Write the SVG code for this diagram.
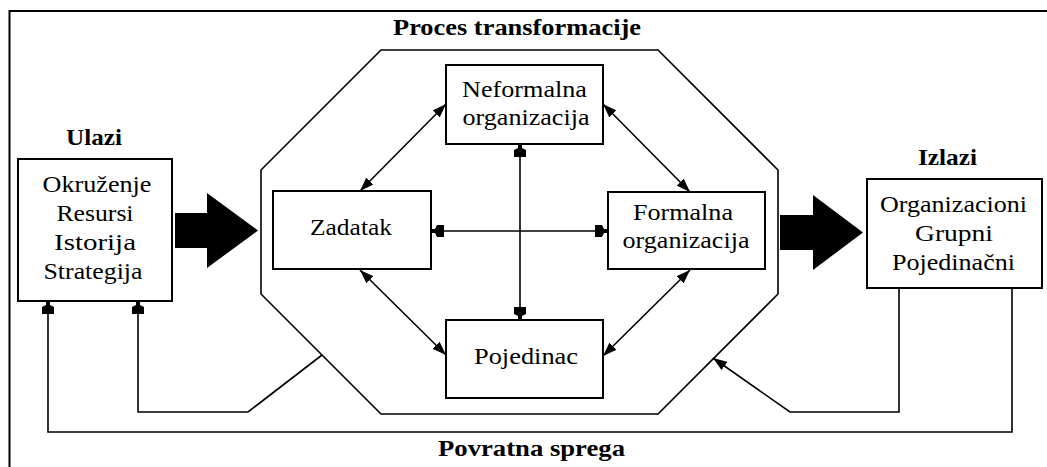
<svg xmlns="http://www.w3.org/2000/svg" width="1047" height="467" viewBox="0 0 1047 467" font-family="Liberation Serif">
  <style>
    .box { fill: #fff; stroke: #000; stroke-width: 2; }
    .txt { font-size: 23px; fill: #000; text-anchor: middle; }
    .ttl { font-size: 24px; font-weight: bold; fill: #000; text-anchor: middle; }
    .ln { fill: none; stroke: #000; stroke-width: 1.6; }
    .frame { fill: none; stroke: #000; stroke-width: 2; }
    .big { fill: #000; stroke: none; }
  </style>
  <defs>
    <marker id="tri" markerUnits="userSpaceOnUse" viewBox="0 0 14 10" refX="14" refY="5" markerWidth="14" markerHeight="10" orient="auto-start-reverse">
      <path d="M0,0 L14,5 L0,10 z" fill="#000"/>
    </marker>
    <marker id="blunt" markerUnits="userSpaceOnUse" viewBox="0 0 13 12" refX="13" refY="6" markerWidth="13" markerHeight="12" orient="auto-start-reverse">
      <polygon points="13,4 13,8 9,8 7,12 0,12 0,0 7,0 9,4" fill="#000"/>
    </marker>
  </defs>

  <!-- outer frame -->
  <path class="frame" d="M9.5,467 V11 H1047"/>

  <!-- titles -->
  <g id="titles" font-family="Liberation Serif">
    <text class="ttl" x="517" y="35" textLength="248" lengthAdjust="spacingAndGlyphs">Proces transformacije</text>
    <text class="ttl" x="94" y="145" textLength="56" lengthAdjust="spacingAndGlyphs">Ulazi</text>
    <text class="ttl" x="947.5" y="165" textLength="59" lengthAdjust="spacingAndGlyphs">Izlazi</text>
    <text class="ttl" x="531.5" y="456" textLength="187" lengthAdjust="spacingAndGlyphs">Povratna sprega</text>
  </g>

  <!-- transformation boundary -->
  <polygon id="process" class="ln" points="381,50 658,50 778,170 778,294 658,414 381,414 261,294 261,170"/>

  <!-- flow arrows -->
  <g id="flow">
    <polygon class="big" points="175,213 207,213 207,193 258,230.5 207,268 207,248 175,248"/>
    <polygon class="big" points="780,215 813,215 813,195 863,232.5 813,270 813,250 780,250"/>
  </g>

  <!-- connectors -->
  <g id="connectors">
    <line class="ln" x1="520" y1="144" x2="520" y2="320" marker-start="url(#blunt)" marker-end="url(#blunt)"/>
    <line class="ln" x1="431" y1="231" x2="608" y2="231" marker-start="url(#blunt)" marker-end="url(#blunt)"/>
    <line class="ln" x1="360" y1="191" x2="446" y2="104" marker-start="url(#tri)" marker-end="url(#tri)"/>
    <line class="ln" x1="603" y1="104" x2="690" y2="192" marker-start="url(#tri)" marker-end="url(#tri)"/>
    <line class="ln" x1="360" y1="270" x2="446" y2="355" marker-start="url(#tri)" marker-end="url(#tri)"/>
    <line class="ln" x1="690" y1="270" x2="603" y2="356" marker-start="url(#tri)" marker-end="url(#tri)"/>
    <path class="ln" d="M322,355 L248,412 H138 V301" marker-end="url(#blunt)"/>
    <path class="ln" d="M1012,288 V432 H48 V301" marker-end="url(#blunt)"/>
    <path class="ln" d="M899,288 V412 H790 L713,358" marker-end="url(#tri)"/>
  </g>

  <!-- inputs -->
  <g id="inputs" font-family="Liberation Serif">
    <rect class="box" x="18" y="159" width="154" height="142"/>
    <text class="txt" x="97" y="192" textLength="109" lengthAdjust="spacingAndGlyphs">Okruženje</text>
    <text class="txt" x="95" y="221" textLength="77" lengthAdjust="spacingAndGlyphs">Resursi</text>
    <text class="txt" x="95" y="250" textLength="82" lengthAdjust="spacingAndGlyphs">Istorija</text>
    <text class="txt" x="93" y="279" textLength="99" lengthAdjust="spacingAndGlyphs">Strategija</text>
  </g>

  <g id="zadatak" font-family="Liberation Serif">
    <rect class="box" x="273" y="191" width="158" height="78"/>
    <text class="txt" x="351" y="235" textLength="82" lengthAdjust="spacingAndGlyphs">Zadatak</text>
  </g>

  <g id="neformalna" font-family="Liberation Serif">
    <rect class="box" x="446" y="65" width="157" height="79"/>
    <text class="txt" x="524.5" y="97" textLength="125" lengthAdjust="spacingAndGlyphs">Neformalna</text>
    <text class="txt" x="526" y="125" textLength="127" lengthAdjust="spacingAndGlyphs">organizacija</text>
  </g>

  <g id="formalna" font-family="Liberation Serif">
    <rect class="box" x="608" y="192" width="157" height="77"/>
    <text class="txt" x="683" y="220" textLength="100" lengthAdjust="spacingAndGlyphs">Formalna</text>
    <text class="txt" x="686" y="248" textLength="127" lengthAdjust="spacingAndGlyphs">organizacija</text>
  </g>

  <g id="pojedinac" font-family="Liberation Serif">
    <rect class="box" x="446" y="320" width="157" height="78"/>
    <text class="txt" x="526" y="364" textLength="104" lengthAdjust="spacingAndGlyphs">Pojedinac</text>
  </g>

  <!-- outputs -->
  <g id="outputs" font-family="Liberation Serif">
    <rect class="box" x="867" y="179" width="175" height="109"/>
    <text class="txt" x="953.5" y="212" textLength="147" lengthAdjust="spacingAndGlyphs">Organizacioni</text>
    <text class="txt" x="954" y="241" textLength="78" lengthAdjust="spacingAndGlyphs">Grupni</text>
    <text class="txt" x="953.5" y="270" textLength="123" lengthAdjust="spacingAndGlyphs">Pojedinačni</text>
  </g>
</svg>
